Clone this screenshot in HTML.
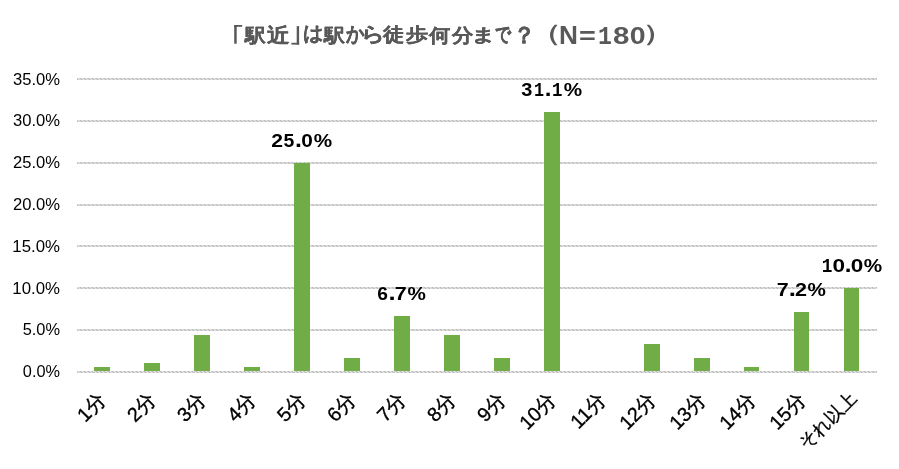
<!DOCTYPE html>
<html><head><meta charset="utf-8"><style>
html,body{margin:0;padding:0;background:#fff;width:899px;height:469px;overflow:hidden}
svg{display:block;font-family:"Liberation Sans",sans-serif;will-change:transform}
</style></head><body>
<svg width="899" height="469" viewBox="0 0 899 469">
<defs>
<pattern id="gp0" x="0" y="0" width="4" height="1" patternUnits="userSpaceOnUse"><rect x="0" y="0" width="1" height="1" fill="#b8b8b8"/><rect x="1" y="0" width="1" height="1" fill="#d6d6d6"/><rect x="2" y="0" width="1" height="1" fill="#dcdcdc"/><rect x="3" y="0" width="1" height="1" fill="#d6d6d6"/></pattern>
<pattern id="gp1" x="0" y="0" width="4" height="1" patternUnits="userSpaceOnUse"><rect x="0" y="0" width="1" height="1" fill="#d6d6d6"/><rect x="1" y="0" width="1" height="1" fill="#b8b8b8"/><rect x="2" y="0" width="1" height="1" fill="#d6d6d6"/><rect x="3" y="0" width="1" height="1" fill="#dcdcdc"/></pattern>
</defs>
<rect width="899" height="469" fill="#fff"/>
<g><text id="t0" transform="translate(245.42,41.63) scale(0.2396,0.2205)" font-family="Liberation Sans" font-size="88" font-weight="bold" fill="#595959" stroke="#595959" stroke-width="1.2" stroke-linejoin="round">駅</text><text id="t1" transform="translate(267.14,42.46) scale(0.2565,0.2262)" font-family="Liberation Sans" font-size="88" font-weight="bold" fill="#595959" stroke="#595959" stroke-width="1.2" stroke-linejoin="round">近</text><text id="t2" transform="translate(302.67,40.13) scale(0.2269,0.2244)" font-family="Liberation Sans" font-size="88" font-weight="bold" fill="#595959" stroke="#595959" stroke-width="1.2" stroke-linejoin="round">は</text><text id="t3" transform="translate(323.52,41.68) scale(0.2385,0.2169)" font-family="Liberation Sans" font-size="88" font-weight="bold" fill="#595959" stroke="#595959" stroke-width="1.2" stroke-linejoin="round">駅</text><text id="t4" transform="translate(346.00,40.73) scale(0.2045,0.2338)" font-family="Liberation Sans" font-size="88" font-weight="bold" fill="#595959" stroke="#595959" stroke-width="1.2" stroke-linejoin="round">か</text><text id="t5" transform="translate(361.19,40.99) scale(0.2721,0.2313)" font-family="Liberation Sans" font-size="88" font-weight="bold" fill="#595959" stroke="#595959" stroke-width="1.2" stroke-linejoin="round">ら</text><text id="t6" transform="translate(383.48,41.48) scale(0.2414,0.2159)" font-family="Liberation Sans" font-size="88" font-weight="bold" fill="#595959" stroke="#595959" stroke-width="1.2" stroke-linejoin="round">徒</text><text id="t7" transform="translate(405.50,41.30) scale(0.2500,0.2135)" font-family="Liberation Sans" font-size="88" font-weight="bold" fill="#595959" stroke="#595959" stroke-width="1.2" stroke-linejoin="round">歩</text><text id="t8" transform="translate(429.49,41.64) scale(0.2472,0.2202)" font-family="Liberation Sans" font-size="88" font-weight="bold" fill="#595959" stroke="#595959" stroke-width="1.2" stroke-linejoin="round">何</text><text id="t9" transform="translate(451.95,41.63) scale(0.2477,0.2209)" font-family="Liberation Sans" font-size="88" font-weight="bold" fill="#595959" stroke="#595959" stroke-width="1.2" stroke-linejoin="round">分</text><text id="t10" transform="translate(471.21,40.56) scale(0.2857,0.2099)" font-family="Liberation Sans" font-size="88" font-weight="bold" fill="#595959" stroke="#595959" stroke-width="1.2" stroke-linejoin="round">ま</text><text id="t11" transform="translate(494.95,41.24) scale(0.1818,0.2297)" font-family="Liberation Sans" font-size="88" font-weight="bold" fill="#595959" stroke="#595959" stroke-width="1.2" stroke-linejoin="round">で</text><text id="t12" transform="translate(513.30,43.43) scale(0.2591,0.2656)" font-family="Liberation Sans" font-size="88" font-weight="bold" fill="#595959" stroke="#595959" stroke-width="1.2" stroke-linejoin="round">？</text><text id="t13" transform="translate(530.93,41.45) scale(0.3476,0.2654)" font-family="Liberation Sans" font-size="88" font-weight="bold" fill="#595959">（</text><text id="t14" transform="translate(558.91,44.00) scale(0.2981,0.2833)" font-family="Liberation Sans" font-size="88" font-weight="bold" fill="#595959">N</text><text id="t15" transform="translate(579.09,44.27) scale(0.3273,0.2727)" font-family="Liberation Sans" font-size="88" font-weight="bold" fill="#595959">=</text><text id="t16" transform="translate(598.12,44.00) scale(0.2628,0.2982)" font-family="Liberation Mono" font-size="88" font-weight="bold" fill="#595959">1</text><text id="t17" transform="translate(613.00,43.72) scale(0.3349,0.2790)" font-family="Liberation Sans" font-size="88" font-weight="bold" fill="#595959">8</text><text id="t18" transform="translate(629.70,43.72) scale(0.3244,0.2790)" font-family="Liberation Sans" font-size="88" font-weight="bold" fill="#595959">0</text><text id="t19" transform="translate(642.58,41.45) scale(0.3476,0.2654)" font-family="Liberation Sans" font-size="88" font-weight="bold" fill="#595959">）</text><rect x="234.2" y="25" width="2.5" height="18.7" fill="#595959"/><rect x="234.2" y="25" width="8" height="1.8" fill="#595959"/><rect x="296.7" y="26.1" width="2.4" height="18.5" fill="#595959"/><rect x="291.4" y="42.8" width="7.7" height="1.8" fill="#595959"/></g>
<g><rect x="77" y="371" width="800" height="1" fill="url(#gp0)"/><rect x="77" y="372" width="800" height="1" fill="url(#gp1)"/><rect x="77" y="329" width="800" height="1" fill="url(#gp0)"/><rect x="77" y="330" width="800" height="1" fill="url(#gp1)"/><rect x="77" y="287" width="800" height="1" fill="url(#gp0)"/><rect x="77" y="288" width="800" height="1" fill="url(#gp1)"/><rect x="77" y="245" width="800" height="1" fill="url(#gp0)"/><rect x="77" y="246" width="800" height="1" fill="url(#gp1)"/><rect x="77" y="204" width="800" height="1" fill="url(#gp0)"/><rect x="77" y="205" width="800" height="1" fill="url(#gp1)"/><rect x="77" y="162" width="800" height="1" fill="url(#gp0)"/><rect x="77" y="163" width="800" height="1" fill="url(#gp1)"/><rect x="77" y="120" width="800" height="1" fill="url(#gp0)"/><rect x="77" y="121" width="800" height="1" fill="url(#gp1)"/><rect x="77" y="78" width="800" height="1" fill="url(#gp0)"/><rect x="77" y="79" width="800" height="1" fill="url(#gp1)"/></g>
<g font-size="16" fill="#000"><text id="y0" transform="translate(22.84,377.16) scale(0.1856,0.1935)" font-family="Liberation Sans" font-size="88" font-weight="normal" fill="#000">0.0%</text><text id="y1" transform="translate(22.65,335.37) scale(0.1865,0.1935)" font-family="Liberation Sans" font-size="88" font-weight="normal" fill="#000">5.0%</text><text id="y2" transform="translate(12.36,293.58) scale(0.1912,0.1935)" font-family="Liberation Sans" font-size="88" font-weight="normal" fill="#000">10.0%</text><text id="y3" transform="translate(12.36,251.79) scale(0.1912,0.1935)" font-family="Liberation Sans" font-size="88" font-weight="normal" fill="#000">15.0%</text><text id="y4" transform="translate(12.94,210.00) scale(0.1888,0.1935)" font-family="Liberation Sans" font-size="88" font-weight="normal" fill="#000">20.0%</text><text id="y5" transform="translate(12.94,168.21) scale(0.1888,0.1935)" font-family="Liberation Sans" font-size="88" font-weight="normal" fill="#000">25.0%</text><text id="y6" transform="translate(12.94,126.42) scale(0.1888,0.1935)" font-family="Liberation Sans" font-size="88" font-weight="normal" fill="#000">30.0%</text><text id="y7" transform="translate(12.94,84.63) scale(0.1888,0.1935)" font-family="Liberation Sans" font-size="88" font-weight="normal" fill="#000">35.0%</text></g>
<g><rect x="94" y="367" width="16" height="4" fill="#70ad47"/><rect x="144" y="363" width="16" height="8" fill="#70ad47"/><rect x="194" y="335" width="16" height="36" fill="#70ad47"/><rect x="244" y="367" width="16" height="4" fill="#70ad47"/><rect x="294" y="163" width="16" height="208" fill="#70ad47"/><rect x="344" y="358" width="16" height="13" fill="#70ad47"/><rect x="394" y="316" width="16" height="55" fill="#70ad47"/><rect x="444" y="335" width="16" height="36" fill="#70ad47"/><rect x="494" y="358" width="16" height="13" fill="#70ad47"/><rect x="544" y="112" width="16" height="259" fill="#70ad47"/><rect x="644" y="344" width="16" height="27" fill="#70ad47"/><rect x="694" y="358" width="16" height="13" fill="#70ad47"/><rect x="744" y="367" width="15" height="4" fill="#70ad47"/><rect x="794" y="312" width="15" height="59" fill="#70ad47"/><rect x="844" y="288" width="15" height="83" fill="#70ad47"/></g>
<g><text id="d0_0" transform="translate(271.28,146.90) scale(0.2405,0.2131)" font-family="Liberation Sans" font-size="88" font-weight="bold" fill="#000">2</text><text id="d0_1" transform="translate(283.44,146.69) scale(0.2209,0.2131)" font-family="Liberation Sans" font-size="88" font-weight="bold" fill="#000">5</text><text id="d0_2" transform="translate(294.90,146.90) scale(0.2833,0.2538)" font-family="Liberation Sans" font-size="88" font-weight="bold" fill="#000">.</text><text id="d0_3" transform="translate(301.15,146.69) scale(0.2366,0.2097)" font-family="Liberation Sans" font-size="88" font-weight="bold" fill="#000">0</text><text id="d0_4" transform="translate(313.63,146.69) scale(0.2351,0.2131)" font-family="Liberation Sans" font-size="88" font-weight="bold" fill="#000">%</text><text id="d1_0" transform="translate(521.35,95.69) scale(0.2273,0.2097)" font-family="Liberation Sans" font-size="88" font-weight="bold" fill="#000">3</text><text id="d1_1" transform="translate(533.96,95.90) scale(0.1907,0.2281)" font-family="Liberation Mono" font-size="88" font-weight="bold" fill="#000">1</text><text id="d1_2" transform="translate(544.75,95.90) scale(0.2750,0.2538)" font-family="Liberation Sans" font-size="88" font-weight="bold" fill="#000">.</text><text id="d1_3" transform="translate(551.91,95.90) scale(0.1977,0.2281)" font-family="Liberation Mono" font-size="88" font-weight="bold" fill="#000">1</text><text id="d1_4" transform="translate(563.63,95.69) scale(0.2351,0.2131)" font-family="Liberation Sans" font-size="88" font-weight="bold" fill="#000">%</text><text id="d2_0" transform="translate(377.34,299.79) scale(0.2186,0.2097)" font-family="Liberation Sans" font-size="88" font-weight="bold" fill="#000">6</text><text id="d2_1" transform="translate(388.55,300.00) scale(0.2917,0.2538)" font-family="Liberation Sans" font-size="88" font-weight="bold" fill="#000">.</text><text id="d2_2" transform="translate(394.82,300.00) scale(0.2439,0.2167)" font-family="Liberation Sans" font-size="88" font-weight="bold" fill="#000">7</text><text id="d2_3" transform="translate(407.53,299.79) scale(0.2351,0.2131)" font-family="Liberation Sans" font-size="88" font-weight="bold" fill="#000">%</text><text id="d3_0" transform="translate(776.72,296.00) scale(0.2439,0.2167)" font-family="Liberation Sans" font-size="88" font-weight="bold" fill="#000">7</text><text id="d3_1" transform="translate(788.75,296.00) scale(0.2917,0.2538)" font-family="Liberation Sans" font-size="88" font-weight="bold" fill="#000">.</text><text id="d3_2" transform="translate(795.06,296.00) scale(0.2452,0.2131)" font-family="Liberation Sans" font-size="88" font-weight="bold" fill="#000">2</text><text id="d3_3" transform="translate(807.53,295.79) scale(0.2351,0.2131)" font-family="Liberation Sans" font-size="88" font-weight="bold" fill="#000">%</text><text id="d4_0" transform="translate(821.69,271.90) scale(0.2023,0.2281)" font-family="Liberation Mono" font-size="88" font-weight="bold" fill="#000">1</text><text id="d4_1" transform="translate(832.58,271.69) scale(0.2561,0.2097)" font-family="Liberation Sans" font-size="88" font-weight="bold" fill="#000">0</text><text id="d4_2" transform="translate(844.75,271.90) scale(0.2750,0.2538)" font-family="Liberation Sans" font-size="88" font-weight="bold" fill="#000">.</text><text id="d4_3" transform="translate(850.78,271.69) scale(0.2561,0.2097)" font-family="Liberation Sans" font-size="88" font-weight="bold" fill="#000">0</text><text id="d4_4" transform="translate(863.63,271.69) scale(0.2351,0.2131)" font-family="Liberation Sans" font-size="88" font-weight="bold" fill="#000">%</text></g>
<g fill="#000"><text id="x0" transform="translate(107.17,400.97) scale(0.2250) rotate(-45)" text-anchor="end" font-size="88" stroke="#000" stroke-width="1.5">1分</text><text id="x1" transform="translate(157.17,400.97) scale(0.2250) rotate(-45)" text-anchor="end" font-size="88" stroke="#000" stroke-width="1.5">2分</text><text id="x2" transform="translate(207.17,400.97) scale(0.2250) rotate(-45)" text-anchor="end" font-size="88" stroke="#000" stroke-width="1.5">3分</text><text id="x3" transform="translate(257.18,400.97) scale(0.2250) rotate(-45)" text-anchor="end" font-size="88" stroke="#000" stroke-width="1.5">4分</text><text id="x4" transform="translate(307.18,400.97) scale(0.2250) rotate(-45)" text-anchor="end" font-size="88" stroke="#000" stroke-width="1.5">5分</text><text id="x5" transform="translate(357.18,400.97) scale(0.2250) rotate(-45)" text-anchor="end" font-size="88" stroke="#000" stroke-width="1.5">6分</text><text id="x6" transform="translate(407.18,400.97) scale(0.2250) rotate(-45)" text-anchor="end" font-size="88" stroke="#000" stroke-width="1.5">7分</text><text id="x7" transform="translate(457.18,400.97) scale(0.2250) rotate(-45)" text-anchor="end" font-size="88" stroke="#000" stroke-width="1.5">8分</text><text id="x8" transform="translate(507.18,400.97) scale(0.2250) rotate(-45)" text-anchor="end" font-size="88" stroke="#000" stroke-width="1.5">9分</text><text id="x9" transform="translate(557.18,400.97) scale(0.2250) rotate(-45)" text-anchor="end" font-size="88" stroke="#000" stroke-width="1.5">10分</text><text id="x10" transform="translate(607.18,400.97) scale(0.2250) rotate(-45)" text-anchor="end" font-size="88" stroke="#000" stroke-width="1.5">11分</text><text id="x11" transform="translate(657.18,400.97) scale(0.2250) rotate(-45)" text-anchor="end" font-size="88" stroke="#000" stroke-width="1.5">12分</text><text id="x12" transform="translate(707.18,400.97) scale(0.2250) rotate(-45)" text-anchor="end" font-size="88" stroke="#000" stroke-width="1.5">13分</text><text id="x13" transform="translate(757.18,400.97) scale(0.2250) rotate(-45)" text-anchor="end" font-size="88" stroke="#000" stroke-width="1.5">14分</text><text id="x14" transform="translate(807.18,400.97) scale(0.2250) rotate(-45)" text-anchor="end" font-size="88" stroke="#000" stroke-width="1.5">15分</text><text id="x15" transform="translate(857.29,399.41) scale(0.2050) rotate(-45)" text-anchor="end" font-size="88" stroke="#000" stroke-width="1.5">それ以上</text></g>
</svg>
</body></html>
